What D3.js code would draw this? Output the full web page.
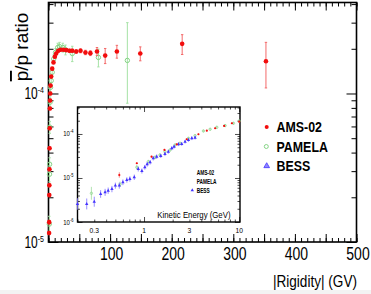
<!DOCTYPE html>
<html><head><meta charset="utf-8">
<script src="https://cdn.jsdelivr.net/npm/d3@7"></script>
<style>body{margin:0;background:#fff}svg{display:block;font-family:"Liberation Sans",Arial,sans-serif}</style>
</head><body><svg width="371" height="294"></svg>
<script>
// main panel: pbar/p ratio vs |rigidity| (GV)
const amsRig = [1.0,1.1,1.25,1.4,1.55,1.75,2.0,2.3,2.55,2.85,3.3,4.4,6.0,8.1,10.3,12.5,15.8,19.5,24.4,28.8,34,38.6,45,52,60,68,78.7,92,111,149,217,353];
const amsRatio = [1.15e-5,1.36e-5,2.07e-5,2.41e-5,3.09e-5,4.28e-5,5.83e-5,7.93e-5,8.97e-5,1.0e-4,1.13e-4,1.30e-4,1.47e-4,1.62e-4,1.77e-4,1.86e-4,1.94e-4,1.97e-4,1.97e-4,1.96e-4,1.94e-4,1.94e-4,1.92e-4,1.94e-4,1.89e-4,1.87e-4,1.92e-4,1.80e-4,1.92e-4,1.86e-4,2.16e-4,1.65e-4];
const amsErr = [0.3e-6,0.4e-6,0.5e-6,0.6e-6,0.8e-6,1.0e-6,1.3e-6,1.6e-6,1.8e-6,2e-6,2.2e-6,2.5e-6,3e-6,3e-6,3.5e-6,3.5e-6,4e-6,4e-6,4e-6,4.5e-6,5e-6,5e-6,5.5e-6,6e-6,6.5e-6,7e-6,1.2e-5,2.1e-5,1.9e-5,2.0e-5,3.3e-5,5.6e-5];

const pamRig = [1.3,1.6,1.8,2.1,2.6,3.3,4.4,6,8.5,11.4,15,17.9,23.2,27.6,38.6,81,128];
const pamRatio = [1.32e-5,2.86e-5,3.34e-5,5.94e-5,8.74e-5,1.10e-4,1.22e-4,1.39e-4,1.71e-4,1.89e-4,2.04e-4,2.07e-4,2.04e-4,1.97e-4,1.86e-4,1.75e-4,1.67e-4];
const pamErrDn = [1.7e-6,3.2e-6,3.5e-6,5.5e-6,7.5e-6,8e-6,8e-6,9e-6,1.1e-5,1.2e-5,1.4e-5,1.4e-5,1.4e-5,1.5e-5,2.2e-5,2.4e-5,8.1e-5];
const pamErrUp = [1.7e-6,3.2e-6,3.5e-6,5.5e-6,7.5e-6,8e-6,8e-6,9e-6,1.1e-5,1.2e-5,1.4e-5,1.4e-5,1.4e-5,1.5e-5,2.2e-5,2.4e-5,1.33e-4];

// inset: pbar/p vs kinetic energy (GeV)
const bessE = [0.2,0.25,0.3,0.35,0.39,0.42,0.46,0.5,0.55,0.6,0.66,0.71,0.79,0.87,0.95,1.02,1.08,1.16,1.25,1.36,1.5,1.66,1.8,1.96,2.07,2.3,2.49,2.7,2.93,3.18,3.44];
const bessRatio = [2.57e-6,2.57e-6,2.89e-6,4.33e-6,4.72e-6,5.14e-6,5.6e-6,6.7e-6,6.7e-6,7.98e-6,9.0e-6,9.5e-6,1.04e-5,1.6e-5,1.44e-5,1.75e-5,2.05e-5,2.27e-5,2.8e-5,3.05e-5,3.16e-5,3.5e-5,3.96e-5,4.72e-5,5.14e-5,5.83e-5,5.93e-5,6.68e-5,7.3e-5,7.98e-5,8.24e-5];
const bessErr = [0.35,0.33,0.3,0.22,0.2,0.18,0.18,0.17,0.17,0.16,0.15,0.15,0.15,0.14,0.14,0.13,0.13,0.12,0.12,0.12,0.11,0.11,0.11,0.1,0.1,0.1,0.1,0.1,0.1,0.1,0.1];

const pamE = [0.28,0.56,0.84,1.11,1.31,1.47,1.66,1.88,2.12,2.39,2.93,3.44,4.21,4.95,5.82,7.12,8.71,10];
const pamInRatio = [4.49e-6,7.2e-6,1.75e-5,2.35e-5,2.95e-5,3.33e-5,3.96e-5,4.33e-5,5.62e-5,6.14e-5,7.98e-5,9.16e-5,1.17e-4,1.28e-4,1.42e-4,1.55e-4,1.75e-4,1.97e-4];
const pamInErr = [0.4,0.15,0.12,0.1,0.1,0.09,0.09,0.08,0.08,0.08,0.07,0.07,0.07,0.07,0.07,0.07,0.07,0.07];

const amsE = [0.55,0.84,1.2,1.64,2.21,2.81,3.73,4.57,5.59,6.95,8.38,10];
const amsInRatio = [1.17e-5,2.16e-5,3.05e-5,4.33e-5,5.83e-5,7.58e-5,9.85e-5,1.19e-4,1.35e-4,1.52e-4,1.75e-4,1.9e-4];
const amsInErr = [0.15,0.04,0.04,0.03,0.03,0.03,0.03,0.03,0.03,0.03,0.03,0.03];

const mainXTicks = [100,200,300,400,500];
const mainYTicks = [1e-5,1e-4];
const insetXTicks = [0.3,1,3,10];
const insetYTicks = [1e-6,1e-5,1e-4];
const seriesNames = ["AMS-02","PAMELA","BESS"];

const RED = "#f20d0d", GREEN = "#86d486", BLUE = "#4433ff";
const svg = d3.select("svg");

const x = d3.scaleLinear().domain([0,500]).range([48.5,356.5]);
const y = d3.scaleLog().domain([1e-5,4.1e-4]).range([242,2.5]);
const xi = d3.scaleLog().domain([0.2,10.2]).range([77.5,240]);
const yi = d3.scaleLog().domain([1e-6,4.1e-4]).range([222,107]);

svg.append("rect").attr("x",0).attr("y",290).attr("width",371).attr("height",4).attr("fill","#f3f3f3");

function stretched(parent, px, py, size, sy, anchor) {
  return parent.append("text").attr("transform", `translate(${px},${py}) scale(1,${sy})`)
    .attr("font-size", size).attr("text-anchor", anchor);
}
function pow10(t, v, supSize, dy) {
  t.append("tspan").text("10");
  t.append("tspan").attr("font-size", supSize).attr("dy", dy).text(String(Math.round(Math.log10(v))));
}
function tickSet(g, axis, pos, vals, len, w) {
  g.append("g").attr("transform", pos)
    .call(axis.tickValues(vals).tickSize(-len).tickFormat(""))
    .call(a => a.select(".domain").remove())
    .selectAll("line").attr("stroke", "#000").attr("stroke-width", w);
}
const isDecade = v => Math.abs(Math.log10(v) - Math.round(Math.log10(v))) < 1e-6;

// ---------- main panel ----------
const main = svg.append("g");
const [x0, x1] = x.range(), [y0, y1] = y.range();
const tens = d3.range(0, 501, 10), fifties = d3.range(0, 501, 50);
tickSet(main, d3.axisBottom(x), `translate(0,${y0})`, tens, 4, 1);
tickSet(main, d3.axisBottom(x), `translate(0,${y0})`, fifties, 8, 1);
tickSet(main, d3.axisTop(x), `translate(0,${y1})`, tens, 4, 1);
tickSet(main, d3.axisTop(x), `translate(0,${y1})`, fifties, 8, 1);
const yt = y.ticks();
tickSet(main, d3.axisLeft(y), `translate(${x0},0)`, yt.filter(v => !isDecade(v)), 5, 1);
tickSet(main, d3.axisLeft(y), `translate(${x0},0)`, yt.filter(isDecade), 10, 1);
tickSet(main, d3.axisRight(y), `translate(${x1},0)`, yt.filter(v => !isDecade(v)), 5, 1);
tickSet(main, d3.axisRight(y), `translate(${x1},0)`, yt.filter(isDecade), 10, 1);
main.append("rect").attr("x", x0).attr("y", y1).attr("width", x1 - x0).attr("height", y0 - y1)
  .attr("fill", "none").attr("stroke", "#000").attr("stroke-width", 1.6);

mainXTicks.forEach(v => stretched(main, x(v) + 1.5, 260, 14, 1.3, "middle").text(v));
mainYTicks.forEach(v => pow10(stretched(main, 44, y(v) + 5.5, 12, 1.35, "end"), v, 7, -4.2));

const yTitle = main.append("text").attr("transform", "translate(28,47) rotate(-90)")
  .attr("font-size", 19).attr("text-anchor", "middle");
yTitle.append("tspan").style("text-decoration", "overline").text("p");
yTitle.append("tspan").text("/p ratio");
stretched(main, 357, 287, 13.6, 1.2, "end").text("|Rigidity| (GV)");

const amsRows = amsRig.map((r, i) => ({x: r, y: amsRatio[i], lo: amsRatio[i] - amsErr[i], hi: amsRatio[i] + amsErr[i]}));
const pamRows = pamRig.map((r, i) => ({x: r, y: pamRatio[i], lo: pamRatio[i] - pamErrDn[i], hi: pamRatio[i] + pamErrUp[i]}));

function errorBars(g, rows, sx, sy, color, w, cap) {
  const eb = g.append("g").attr("stroke", color).attr("stroke-width", w);
  eb.selectAll(null).data(rows).join("line")
    .attr("x1", d => sx(d.x)).attr("x2", d => sx(d.x)).attr("y1", d => sy(d.lo)).attr("y2", d => sy(d.hi));
  if (cap) ["lo", "hi"].forEach(k => eb.selectAll(null).data(rows).join("line")
    .attr("x1", d => sx(d.x) - cap).attr("x2", d => sx(d.x) + cap).attr("y1", d => sy(d[k])).attr("y2", d => sy(d[k])));
}
errorBars(main, pamRows, x, y, "#a6e2a6", 1, 1.2);
main.append("g").selectAll("circle").data(pamRows).join("circle")
  .attr("cx", d => x(d.x)).attr("cy", d => y(d.y)).attr("r", 2.2)
  .attr("fill", "none").attr("stroke", GREEN).attr("stroke-width", 1);
errorBars(main, amsRows, x, y, "#f36a6a", 1, 1.2);
main.append("g").selectAll("circle").data(amsRows).join("circle")
  .attr("cx", d => x(d.x)).attr("cy", d => y(d.y)).attr("r", 2.3).attr("fill", RED);

// main legend
const tri = d3.symbol().type(d3.symbolTriangle);
const leg = svg.append("g");
seriesNames.forEach((name, i) => {
  const cy = 127 + i * 19.5;
  if (i === 0) leg.append("circle").attr("cx", 266.7).attr("cy", cy).attr("r", 2).attr("fill", RED);
  if (i === 1) leg.append("circle").attr("cx", 266.3).attr("cy", cy).attr("r", 2).attr("fill", "none").attr("stroke", GREEN).attr("stroke-width", 1);
  if (i === 2) leg.append("path").attr("d", tri.size(14)()).attr("transform", `translate(266.7,${cy})`)
    .attr("fill", "#8f86ff").attr("stroke", BLUE).attr("stroke-width", 0.8);
  stretched(leg, 276.5, cy + 5.3, 12.4, 1.2, "start").attr("font-weight", "bold").text(name);
});

// ---------- inset ----------
const ins = svg.append("g");
const [ix0, ix1] = xi.range(), [iy0, iy1] = yi.range();
ins.append("rect").attr("x", ix0).attr("y", iy1).attr("width", ix1 - ix0).attr("height", iy0 - iy1).attr("fill", "#fff");
const xit = xi.ticks(), yit = yi.ticks();
tickSet(ins, d3.axisBottom(xi), `translate(0,${iy0})`, xit.filter(v => !isDecade(v)), 2.5, 0.7);
tickSet(ins, d3.axisBottom(xi), `translate(0,${iy0})`, xit.filter(isDecade), 5, 0.7);
tickSet(ins, d3.axisTop(xi), `translate(0,${iy1})`, xit.filter(v => !isDecade(v)), 2.5, 0.7);
tickSet(ins, d3.axisTop(xi), `translate(0,${iy1})`, xit.filter(isDecade), 5, 0.7);
tickSet(ins, d3.axisLeft(yi), `translate(${ix0},0)`, yit.filter(v => !isDecade(v)), 2.5, 0.7);
tickSet(ins, d3.axisLeft(yi), `translate(${ix0},0)`, yit.filter(isDecade), 5, 0.7);
tickSet(ins, d3.axisRight(yi), `translate(${ix1},0)`, yit.filter(v => !isDecade(v)), 2.5, 0.7);
tickSet(ins, d3.axisRight(yi), `translate(${ix1},0)`, yit.filter(isDecade), 5, 0.7);
ins.append("rect").attr("x", ix0).attr("y", iy1).attr("width", ix1 - ix0).attr("height", iy0 - iy1)
  .attr("fill", "none").attr("stroke", "#000").attr("stroke-width", 1.4);

insetXTicks.forEach(v => stretched(ins, xi(v), 233.3, 6.7, 1.2, "middle").text(v));
insetYTicks.forEach(v => pow10(stretched(ins, 73.5, yi(v) + 2.5, 6, 1.2, "end"), v, 4, -2.5));
stretched(ins, 230.5, 217.5, 7.8, 1.22, "end").text("Kinetic Energy (GeV)");

const rel = (xs, ys, es) => xs.map((e, i) => ({x: e, y: ys[i], lo: ys[i] / (1 + es[i]), hi: ys[i] * (1 + es[i])}));
const bessRows = rel(bessE, bessRatio, bessErr);
const pamInRows = rel(pamE, pamInRatio, pamInErr);
const amsInRows = rel(amsE, amsInRatio, amsInErr);

errorBars(ins, pamInRows, xi, yi, "#9fdc9f", 0.8, 0);
ins.append("g").selectAll("circle").data(pamInRows).join("circle")
  .attr("cx", d => xi(d.x)).attr("cy", d => yi(d.y)).attr("r", 1.2)
  .attr("fill", "none").attr("stroke", GREEN).attr("stroke-width", 0.7);
errorBars(ins, bessRows, xi, yi, "#7c70ff", 0.8, 0);
ins.append("g").selectAll("path").data(bessRows).join("path")
  .attr("d", tri.size(5)()).attr("transform", d => `translate(${xi(d.x)},${yi(d.y)})`)
  .attr("fill", BLUE);
errorBars(ins, amsInRows, xi, yi, "#f36a6a", 0.8, 0);
ins.append("g").selectAll("circle").data(amsInRows).join("circle")
  .attr("cx", d => xi(d.x)).attr("cy", d => yi(d.y)).attr("r", 1.1).attr("fill", RED);

// inset legend
seriesNames.forEach((name, i) => {
  const by = [175, 184, 192.5][i];
  stretched(ins, 196.7, by, 4.8, 1.4, "start").attr("font-weight", "bold").text(name);
});
ins.append("path").attr("d", tri.size(5)()).attr("transform", "translate(192.3,190.3)").attr("fill", BLUE);
</script>
</body></html>
